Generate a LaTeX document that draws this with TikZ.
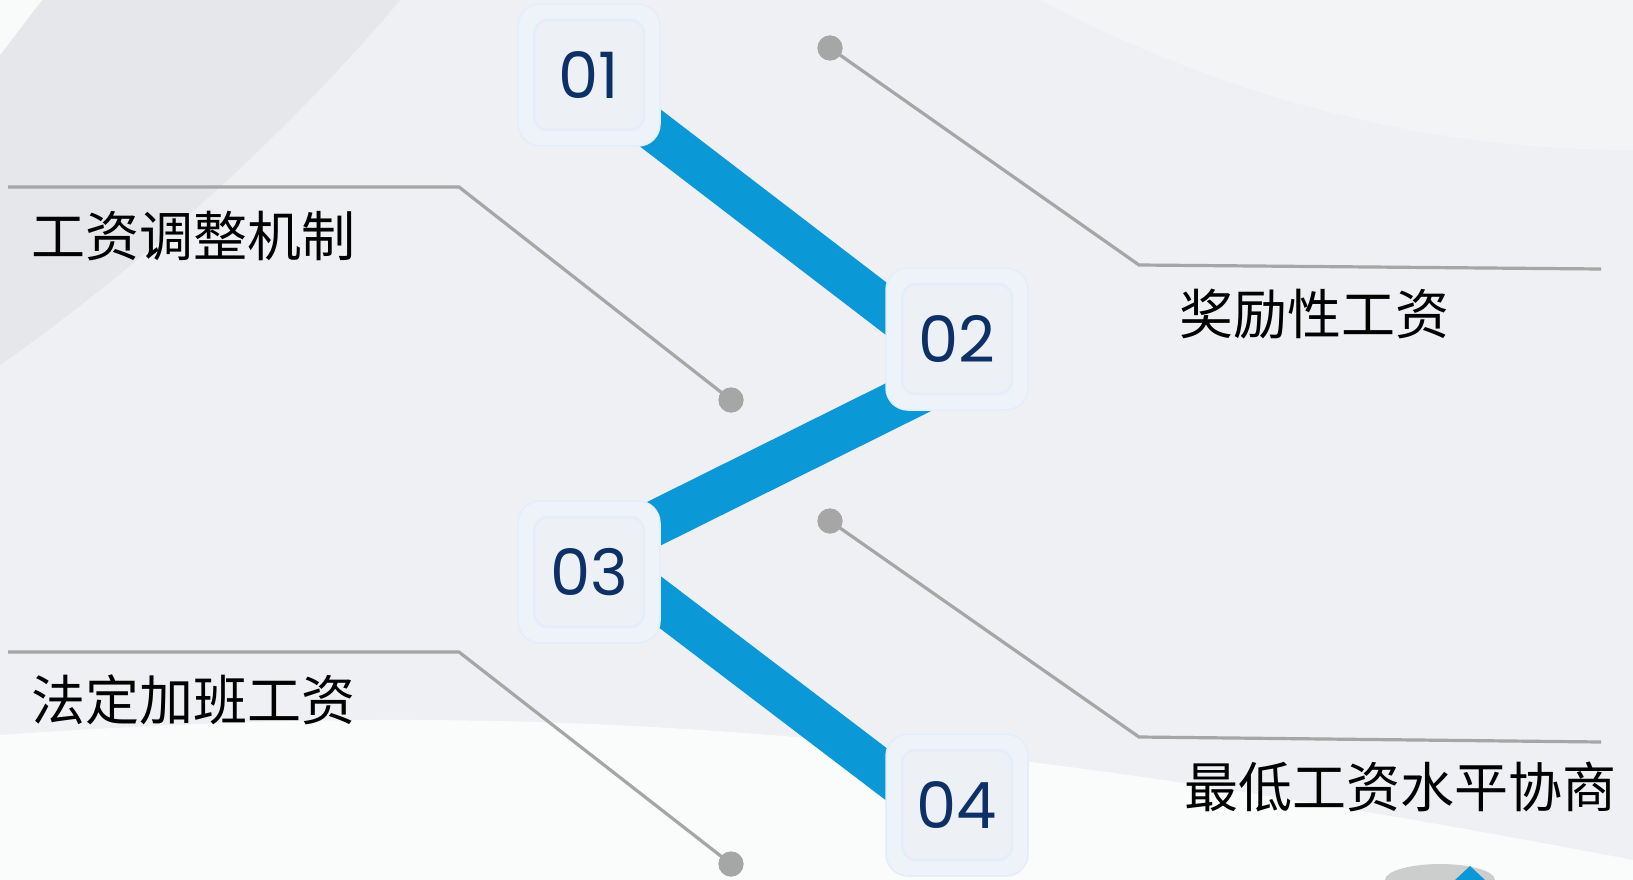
\documentclass[tikz,border=0pt]{standalone}
\usepackage{fontspec}
\newfontfamily\cjk{Noto Sans CJK SC}
\newfontfamily\numfont{Poppins}
\usetikzlibrary{positioning}
\definecolor{bandblue}{HTML}{0A98D6}
\definecolor{numnavy}{HTML}{0D3166}
\definecolor{leadgray}{HTML}{A6A6A6}
\definecolor{bgbase}{HTML}{EFF0F3}
\definecolor{bgdark}{HTML}{E5E7EA}
\definecolor{boxfill}{HTML}{EEF2F9}
\definecolor{boxline}{HTML}{E4EDFA}
\definecolor{innerfill}{HTML}{EDF0F5}
\pgfdeclarelayer{bg}
\pgfdeclarelayer{background}
\pgfsetlayers{bg,background,main}

\begin{document}
\begin{tikzpicture}[
            x=1pt, y=-1pt, % 像素坐标
            band/.style={draw=bandblue, line width=42pt}, % 蓝色连接带
            leader/.style={draw=leadgray, line width=3.2pt}, % 灰色引线
            dot/.style={circle, fill=leadgray, minimum size=25pt, inner sep=0}, % 引线端点
            numbox/.style={
                rectangle, % 圆角方块
                rounded corners=22pt,
                fill=boxfill,
                draw=boxline,
                line width=1.5pt,
                minimum size=142pt,
                inner sep=0
            },
            innerbox/.style={rectangle, rounded corners=14pt, fill=innerfill, draw=boxline, line width=2.5pt, minimum size=110pt, inner sep=0},
            numtext/.style={text=numnavy, font=\numfont\fontsize{64}{64}\selectfont, inner sep=0}, % 编号字体
            itemtext/.style={font=\cjk\fontsize{54}{54}\selectfont, anchor=west, inner sep=0} % 文字字体
        ]
        \useasboundingbox (0,0) rectangle (1633,880);

        % 背景
        \begin{pgfonlayer}{bg}
            \fill[bgbase] (0,0) rectangle (1633,880);
            \fill[bgdark] (0,0) -- (400,0) .. controls (300,120) and (150,260) .. (0,365) -- cycle;
            \fill[white, opacity=0.8] (0,0) -- (42,0) -- (0,55) -- cycle;
            \fill[white, opacity=0.3] (1040,0) .. controls (1250,110) and (1450,150) .. (1633,150) -- (1633,0) -- cycle;
            \fill[white, opacity=0.75] (0,735) .. controls (500,700) and (900,720) .. (1633,860) -- (1633,880) -- (0,880) -- cycle;
            \fill[black, opacity=0.18] (1440,880) ellipse (55pt and 16pt);
            \fill[bandblue] (1455,880) -- (1470,866) -- (1485,880) -- cycle;
        \end{pgfonlayer}

        % 编号方块
        \node[numbox] (n1) at (589,75) {};
        \node[numbox] (n2) at (957,339) {};
        \node[numbox] (n3) at (589,572) {};
        \node[numbox] (n4) at (957,805) {};
        \node[innerbox] (i1) at (n1) {};
        \node[innerbox] (i2) at (n2) {};
        \node[innerbox] (i3) at (n3) {};
        \node[innerbox] (i4) at (n4) {};
        \node[numtext] (t1) at (n1) {01};
        \node[numtext] (t2) at (n2) {02};
        \node[numtext] (t3) at (n3) {03};
        \node[numtext] (t4) at (n4) {04};

        % 蓝色折线
        \begin{pgfonlayer}{background}
            \draw[band] ([yshift=-6pt]n1.center) -- ([yshift=-24pt]n2.center);
            \draw[band, line width=45pt] ([yshift=-34pt]n2.center) -- ([yshift=16pt]n3.center);
            \draw[band] ([yshift=24pt]n3.center) -- ([yshift=-23pt]n4.center);
        \end{pgfonlayer}

        % 引线与圆点
        \node[dot] (d1) at (731,400) {};
        \node[dot] (d2) at (830,48) {};
        \node[dot] (d3) at (731,864) {};
        \node[dot] (d4) at (830,521) {};
        \coordinate (k1) at (459,187);
        \coordinate (e1) at (8,187);
        \coordinate (k2) at (1139,265);
        \coordinate (e2) at (1601,269);
        \coordinate (k3) at (459,652);
        \coordinate (e3) at (8,652);
        \coordinate (k4) at (1139,737);
        \coordinate (e4) at (1601,742);
        \draw[leader] (e1) -- (k1) -- (d1.center);
        \draw[leader] (d2.center) -- (k2) -- (e2);
        \draw[leader] (e3) -- (k3) -- (d3.center);
        \draw[leader] (d4.center) -- (k4) -- (e4);
        \node[dot] at (d1) {};
        \node[dot] at (d2) {};
        \node[dot] at (d3) {};
        \node[dot] at (d4) {};

        % 文字
        \node[itemtext] (w1) at (31,236) {工资调整机制};
        \node[itemtext] (w2) at (1179,314) {奖励性工资};
        \node[itemtext] (w3) at (31,700) {法定加班工资};
        \node[itemtext] (w4) at (1184,787) {最低工资水平协商};
        \end{tikzpicture}
\end{document}
